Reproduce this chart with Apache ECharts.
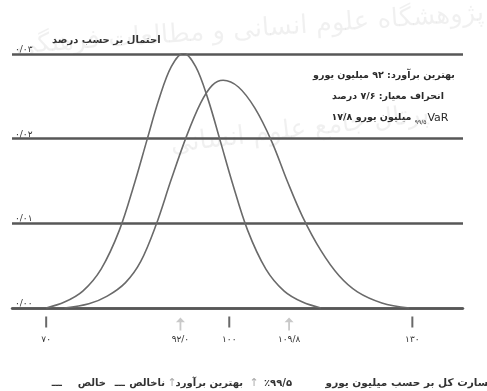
<!DOCTYPE html>
<html>
<head>
<meta charset="utf-8">
<script src="https://cdn.jsdelivr.net/npm/echarts@6/dist/echarts.min.js"></script>
<style>
  html, body { margin: 0; padding: 0; background: #fff; }
  #chart { width: 487px; height: 391px; }
</style>
</head>
<body>
<div id="chart"></div>
<script>
// خالص (net) - left curve
var netX = [70, 73, 76, 79, 82, 84.5, 86.5, 88.5, 90.5, 92.5, 94.5, 96.5, 98.5, 100.5, 103, 106, 109, 112, 115];
var netY = [0, 0.0007, 0.0020, 0.0046, 0.0092, 0.0148, 0.0198, 0.0247, 0.0285, 0.0301, 0.0285, 0.0247, 0.0198, 0.0148, 0.0092, 0.0046, 0.0020, 0.0007, 0];
// ناخالص (gross) - right curve
var grossX = [73, 77, 80, 83, 85.5, 88, 90.5, 93, 95.3, 97.2, 99, 101.5, 104.2, 107, 109.5, 112, 115, 118, 121, 125, 129.5];
var grossY = [0, 0.0005, 0.0014, 0.0030, 0.0055, 0.0098, 0.0152, 0.0203, 0.0242, 0.0263, 0.0269, 0.0261, 0.0236, 0.0196, 0.0150, 0.0108, 0.0068, 0.0038, 0.0019, 0.0006, 0];

var xTickValues = [70, 92, 100, 109.8, 130];
var xTickLabels = ["۷۰", "۹۲/۰", "۱۰۰", "۱۰۹/۸", "۱۳۰"];
var barTicks = [70, 100, 130];     // خط‌های کوتاه
var arrowTicks = [92, 109.8];      // فلش‌ها
var yTickLabels = ["۰/۰۰", "۰/۰۱", "۰/۰۲", "۰/۰۳"];

var font = "DejaVu Sans";

function pairs(xs, ys) {
  return xs.map(function (x, i) { return [x, ys[i]]; });
}

function label(x, y, text, opts) {
  opts = opts || {};
  return {
    type: "text", x: x, y: y, silent: true,
    style: {
      text: text,
      font: opts.font || ("bold 10px " + font),
      fill: opts.fill || "#333",
      align: opts.align || "right",
      verticalAlign: "middle"
    }
  };
}

var myChart = echarts.init(document.getElementById("chart"));
myChart.setOption({
  backgroundColor: "#fff",
  animation: false,
  textStyle: { fontFamily: font },
  grid: { left: 12, right: 24, top: 54, bottom: 83 },
  xAxis: {
    type: "value",
    min: 64.4,
    max: 138.3,
    axisLine: { show: true, lineStyle: { color: "#575757", width: 2.5 } },
    axisTick: { show: false },
    splitLine: { show: false },
    axisLabel: {
      customValues: xTickValues,
      margin: 27,
      fontSize: 9,
      color: "#333",
      fontFamily: font,
      formatter: function (v) {
        var i = xTickValues.indexOf(v);
        return i >= 0 ? xTickLabels[i] : "";
      }
    }
  },
  yAxis: {
    type: "value",
    min: 0,
    max: 0.03,
    interval: 0.01,
    axisLine: { show: false },
    axisTick: { show: false },
    splitLine: { show: true, lineStyle: { color: "#575757", width: 2.5 } },
    axisLabel: {
      inside: true,
      margin: 3,
      verticalAlign: "bottom",
      fontSize: 9,
      color: "#333",
      fontFamily: font,
      formatter: function (v) {
        return yTickLabels[Math.round(v * 100)];
      }
    }
  },
  graphic: [
    {
      type: "text", left: 52, top: 35, silent: true,
      style: { text: "احتمال بر حسب درصد", font: "bold 10px " + font, fill: "#333" }
    },
    label(384, 76, "بهترین برآورد: ۹۲ میلیون یورو", { align: "center", font: "bold 9.5px " + font, fill: "#2a2a2a" }),
    label(388, 97, "انحراف معیار: ۷/۶ درصد", { align: "center", font: "bold 9.5px " + font, fill: "#2a2a2a" }),
    {
      type: "text", x: 390, y: 118, silent: true,
      style: {
        text: "{t|۱۷/۸ میلیون یورو }{s|۹۹/۵}{v|VaR}",
        align: "center", verticalAlign: "middle",
        rich: {
          t: { fontSize: 9.5, fontWeight: "bold", fontFamily: font, fill: "#2a2a2a" },
          s: { fontSize: 6, fontFamily: font, fill: "#2a2a2a", padding: [8, 1, 0, 0] },
          v: { fontSize: 11, fontFamily: font, fill: "#2a2a2a" }
        }
      }
    },
    // پایین نمودار
    label(496, 383, "خسارت کل بر حسب میلیون یورو", { font: "bold 10.5px " + font }),
    label(292, 383, "٪۹۹/۵"),
    label(254, 383, "↑", { align: "center", font: "11px " + font, fill: "#aaa" }),
    label(243, 383, "بهترین برآورد"),
    label(172, 383, "↑", { align: "center", font: "11px " + font, fill: "#aaa" }),
    label(165, 383, "ناخالص"),
    label(125, 383, "ـــ"),
    label(106, 383, "خالص"),
    label(62, 383, "ـــ"),
    // واترمارک
    {
      type: "text", x: 250, y: 30, rotation: 0.07, silent: true, z: -1,
      style: { text: "پژوهشگاه علوم انسانی و مطالعات فرهنگی", font: "26px " + font, fill: "rgba(0,0,0,0.06)", align: "center", verticalAlign: "middle" }
    },
    {
      type: "text", x: 300, y: 130, rotation: 0.12, silent: true, z: -1,
      style: { text: "پرتال جامع علوم انسانی", font: "26px " + font, fill: "rgba(0,0,0,0.06)", align: "center", verticalAlign: "middle" }
    }
  ],
  series: [
    {
      name: "خالص",
      type: "line",
      smooth: 0.35,
      showSymbol: false,
      data: pairs(netX, netY),
      lineStyle: { color: "#6a6a6a", width: 1.6 },
      z: 3
    },
    {
      name: "ناخالص",
      type: "line",
      smooth: 0.35,
      showSymbol: false,
      data: pairs(grossX, grossY),
      lineStyle: { color: "#6a6a6a", width: 1.6 },
      z: 3
    },
    {
      type: "scatter",
      clip: false,
      symbol: "rect",
      symbolSize: [2, 11],
      symbolOffset: [0, 14],
      itemStyle: { color: "#444" },
      data: barTicks.map(function (v) { return [v, 0]; })
    },
    {
      type: "scatter",
      clip: false,
      symbol: "path://M5,0 L10,5 L6,5 L6,14 L4,14 L4,5 L0,5 Z",
      symbolSize: [9, 13],
      symbolOffset: [0, 16],
      itemStyle: { color: "#bbb" },
      data: arrowTicks.map(function (v) { return [v, 0]; })
    }
  ]
});
</script>
</body>
</html>
